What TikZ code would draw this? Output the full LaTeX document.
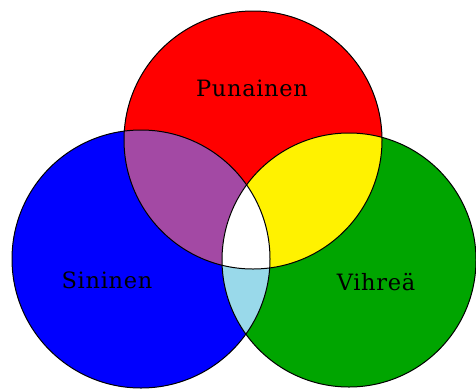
\documentclass[tikz,border=0pt]{standalone}
\usepackage{fontspec}
\setmainfont{DejaVu Serif}
\newfontfamily\lblfont[LetterSpace=3]{DejaVu Serif}
\definecolor{cred}{RGB}{255,0,0}
\definecolor{cblue}{RGB}{0,0,255}
\definecolor{cgreen}{RGB}{0,165,0}
\definecolor{cpurple}{RGB}{163,73,164}
\definecolor{cyellow}{RGB}{255,242,0}
\definecolor{clightblue}{RGB}{153,217,234}
\tikzset{
  lbl/.style={anchor=base, inner sep=0pt, font=\lblfont\fontsize{22.5}{26}\selectfont, text=black},
  outline/.style={draw=black, line width=1pt}
}
\begin{document}
\begin{tikzpicture}[x=1pt,y=-1pt]
\useasboundingbox (0,0) rectangle (476,389);
\clip (0,0) rectangle (476,389);
\def\redc{(253,140) circle[radius=129pt]}
\def\bluec{(141,259) circle[radius=129pt]}
\def\greenc{(349,260) circle[radius=127pt]}
\fill[white] (0,0) rectangle (476,389);
\fill[cred] \redc;
\fill[cblue] \bluec;
\fill[cgreen] \greenc;
\begin{scope}\clip \redc; \fill[cpurple] \bluec; \end{scope}
\begin{scope}\clip \redc; \fill[cyellow] \greenc; \end{scope}
\begin{scope}\clip \bluec; \fill[clightblue] \greenc; \end{scope}
\begin{scope}\clip \redc; \clip \bluec; \fill[white] \greenc; \end{scope}
\draw[outline] \redc;
\draw[outline] \bluec;
\draw[outline] \greenc;
\node[lbl] (pun) at (252,96) {Punainen};
\node[lbl] (sin) at (107,288) {Sininen};
\node[lbl] (vih) at (376,290.5) {Vihreä};
\end{tikzpicture}
\end{document}
